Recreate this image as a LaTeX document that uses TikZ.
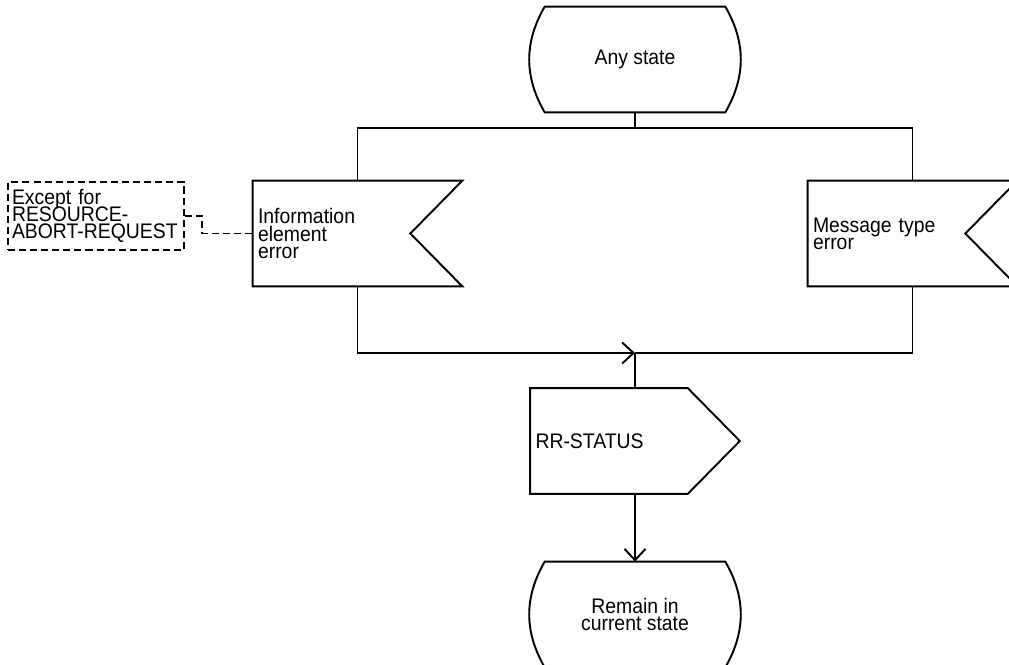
\documentclass[tikz,border=0pt]{standalone}
\usepackage{fontspec}
\setmainfont[FakeStretch=0.92]{Liberation Sans}
\usetikzlibrary{arrows.meta,calc}

\newcommand{\sdlfont}{\fontsize{12pt}{9.8pt}\selectfont\lineskiplimit=-20pt\relax}
% outlines drawn round the named nodes
\newcommand{\stateoutline}[1]{\draw[sdl] (#1.north west) -- (#1.north east) to[bend left=30] (#1.south east) -- (#1.south west) to[bend left=30] (#1.north west) -- cycle;}
\newcommand{\inputoutline}[1]{\draw[sdl] (#1.north west) -- (#1.north east) -- ($(#1.east)+(-52,0)$) -- (#1.south east) -- (#1.south west) -- cycle;}
\newcommand{\outputoutline}[1]{\draw[sdl] (#1.north west) -- ($(#1.north east)+(-52,0)$) -- (#1.east) -- ($(#1.south east)+(-52,0)$) -- (#1.south west) -- cycle;}

\begin{document}
\begin{tikzpicture}[x=0.02cm, y=-0.02cm,
    sdl/.style={line width=1.1pt},
    commentline/.style={sdl, dash pattern=on 4pt off 2.3pt},
    flowarrow/.style={sdl, -{Straight Barb[length=6.5pt,width=12pt]}},
    statebox/.style={inner sep=0pt, minimum width=3.6cm, minimum height=2.1cm, align=center, font=\sdlfont},
    signalbox/.style={inner sep=0.1cm, minimum width=4.18cm, minimum height=2.1cm, text width=3.98cm, align=left, font=\sdlfont},
    commentbox/.style={draw, commentline, inner sep=0.08cm, minimum width=3.52cm, minimum height=1.36cm, text width=3.36cm, align=left, font=\sdlfont}]
    \useasboundingbox[fill=white] (0,0) rectangle (1009,665);

    % --- states ---
    \node[statebox] (anystate) at (635,59.5) {Any state};
    \node[statebox] (remain) at (635,614.5) {Remain in\\current state};
    \stateoutline{anystate}
    \stateoutline{remain}

    % --- inputs ---
    \node[signalbox] (ieerror) at (357.5,233.5) {Information\\element\\error};
    \node[signalbox] (mterror) at (912.5,233.5) {Message type\\error};
    \inputoutline{ieerror}
    \inputoutline{mterror}

    % --- output ---
    \node[signalbox] (rrstatus) at (635,441) {RR-STATUS};
    \outputoutline{rrstatus}

    % --- comment ---
    \node[commentbox] (except) at (96,216) {Except for\\RESOURCE-\\ABORT-REQUEST};
    \draw[commentline] (except.east) -- ++(17,0) |- (ieerror.west);

    % --- flow lines ---
    \coordinate (split) at (635,128);
    \coordinate (merge) at (635,353);
    \draw[sdl] (anystate.south) -- (split);
    \draw[sdl] (ieerror.north) |- (split) -| (mterror.north);
    \draw[flowarrow] (ieerror.south) |- (merge);
    \draw[sdl] (mterror.south) |- (merge);
    \draw[sdl] (merge) -- (rrstatus.north);
    \draw[flowarrow] (rrstatus.south) -- (remain.north);
\end{tikzpicture}
\end{document}
